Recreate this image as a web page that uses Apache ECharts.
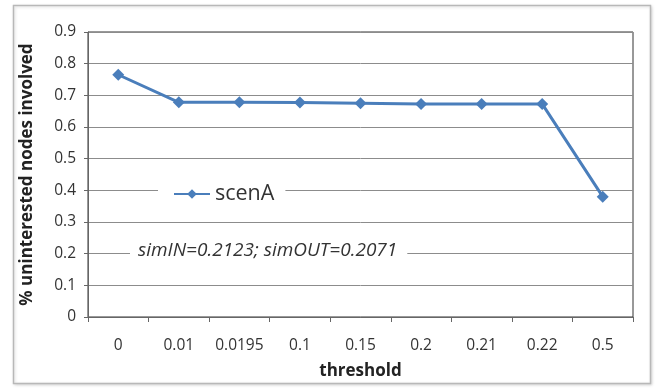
<!DOCTYPE html>
<html>
<head>
<meta charset="utf-8">
<script src="https://cdn.jsdelivr.net/npm/echarts@6/dist/echarts.min.js"></script>
<style>
  html, body { margin: 0; padding: 0; background: #fff; }
  #chart { width: 659px; height: 388px; }
</style>
</head>
<body>
<div id="chart"></div>
<script>
// thresholds on the x axis
var thresholds = ['0', '0.01', '0.0195', '0.1', '0.15', '0.2', '0.21', '0.22', '0.5'];
// share of uninterested nodes involved
var scenA = [0.765, 0.678, 0.678, 0.677, 0.675, 0.673, 0.673, 0.673, 0.38];

var font = '"Open Sans", Lato, sans-serif';

var chart = echarts.init(document.getElementById('chart'));
chart.setOption({
    animation: false,
    graphic: [{
        type: 'rect',
        shape: {x: 13.5, y: 5.5, width: 637, height: 378},
        style: {fill: '#fff', stroke: '#b8b8b8', lineWidth: 1.5,
            shadowColor: 'rgba(0,0,0,0.15)', shadowBlur: 3, shadowOffsetX: 1, shadowOffsetY: 1},
        z: -10
    }],
    title: {
        text: 'simIN=0.2123; simOUT=0.2071',
        left: 130,
        top: 240,
        padding: [1, 10, 1, 8],
        backgroundColor: '#fff',
        textStyle: {fontFamily: font, fontSize: 19, fontStyle: 'italic', fontWeight: 'normal', color: '#333'}
    },
    legend: {
        left: 158,
        top: 181,
        padding: [2, 11, 2, 15],
        backgroundColor: '#fff',
        itemWidth: 36,
        itemHeight: 12,
        itemGap: 4,
        textStyle: {fontFamily: font, fontSize: 21.5, color: '#333'},
        data: ['scenA']
    },
    grid: {
        left: 88, right: 26, top: 32, bottom: 71,
        show: true, borderColor: '#333', borderWidth: 1
    },
    xAxis: {
        type: 'category',
        data: thresholds,
        name: 'threshold',
        nameLocation: 'middle',
        nameGap: 46,
        nameTextStyle: {fontFamily: font, fontSize: 17, fontWeight: 'bold', color: '#222'},
        axisLine: {lineStyle: {color: '#666'}},
        axisTick: {show: true, length: 5, interval: 0, lineStyle: {color: '#666'}},
        axisLabel: {fontFamily: font, fontSize: 15.5, color: '#333', margin: 21, interval: 0, hideOverlap: false}
    },
    yAxis: {
        type: 'value',
        min: 0, max: 0.9, interval: 0.1,
        name: '% uninterested nodes involved',
        nameLocation: 'middle',
        nameGap: 52,
        nameTextStyle: {fontFamily: font, fontSize: 17, fontWeight: 'bold', color: '#222'},
        axisLine: {show: true, lineStyle: {color: '#666'}},
        axisTick: {show: true, length: 4, lineStyle: {color: '#666'}},
        axisLabel: {fontFamily: font, fontSize: 15.5, color: '#333', margin: 12,
            formatter: function (v) { return String(Math.round(v * 10) / 10); }},
        splitLine: {lineStyle: {color: '#8c8c8c', width: 1}}
    },
    series: [{
        name: 'scenA',
        type: 'line',
        data: scenA,
        symbol: 'diamond',
        symbolSize: 12,
        lineStyle: {color: '#4a7ebb', width: 3},
        itemStyle: {color: '#4a7ebb'}
    }]
});
</script>
</body>
</html>
